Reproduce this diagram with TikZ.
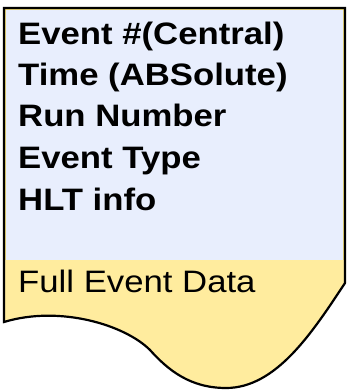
\documentclass[tikz,border=0pt]{standalone}
\usepackage{fontspec}
\setmainfont{Liberation Sans}[FakeStretch=1.12]
\definecolor{hdrblue}{RGB}{232,238,253}
\definecolor{datayellow}{RGB}{255,236,158}
\definecolor{rimyellow}{RGB}{240,220,120}
\begin{document}
\begin{tikzpicture}[x=1pt,y=-1pt,
  hdrtext/.style={anchor=base west,inner sep=0pt,font=\fontsize{31}{31}\selectfont\bfseries},
  datatext/.style={anchor=base west,inner sep=0pt,font=\fontsize{31}{31}\selectfont}]
\useasboundingbox (0,0) rectangle (348,390);
\def\docpath{(4,8) -- (345,8) -- (345,283) .. controls (312,333) and (276,388) .. (226,388) .. controls (190,388) and (168,370) .. (150,350) .. controls (125,325) and (60,305) .. (4,322) -- cycle}
\begin{scope}
  \clip \docpath;
  \fill[hdrblue] (0,0) rectangle (348,260);
  \fill[datayellow] (0,260) rectangle (348,390);
  \draw[rimyellow,line width=4.5pt] (4,8) -- (345,8) -- (345,260) (4,8) -- (4,260);
\end{scope}
\draw[line width=2.2pt,line join=miter] \docpath;
\node[hdrtext] (l1) at (18,45) {Event \#(Central)};
\node[hdrtext] (l2) at (18,86) {Time (ABSolute)};
\node[hdrtext] (l3) at (18,127) {Run Number};
\node[hdrtext] (l4) at (18,168) {Event Type};
\node[hdrtext] (l5) at (18,210) {HLT info};
\node[datatext] (full) at (18,292) {Full Event Data};
\end{tikzpicture}
\end{document}
